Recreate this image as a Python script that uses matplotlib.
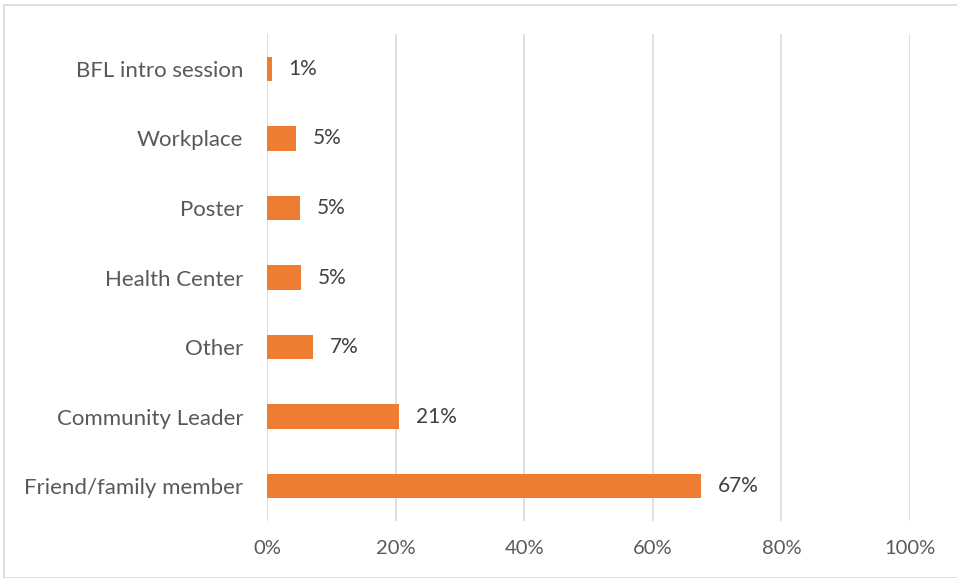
import matplotlib.pyplot as plt
from matplotlib.patches import Rectangle

# Data
sources = ['Friend/family member', 'Community Leader', 'Other', 'Health Center',
           'Poster', 'Workplace', 'BFL intro session']
shares = [67.5, 20.6, 7.2, 5.3, 5.1, 4.5, 0.7]
labels = ['67%', '21%', '7%', '5%', '5%', '5%', '1%']
ticks = [0, 20, 40, 60, 80, 100]

plt.rcParams['font.family'] = ['Lato', 'DejaVu Sans']

fig = plt.figure(figsize=(9.57, 5.78), dpi=100)
ax = fig.add_axes([267/957, 1 - 521/578, (910 - 267)/957, (521 - 34)/578])

# light border around the chart
fig.patches.append(Rectangle((4/957, 0.0), 1.2, 1 - 5/578, transform=fig.transFigure,
                             fill=False, edgecolor='#d9d9d9', linewidth=1.2))

bars = ax.barh(range(len(sources)), shares, height=0.35, color='#ed7d31', zorder=3)
for bar, lab in zip(bars, labels):
    ax.text(bar.get_width() + 2.6, bar.get_y() + bar.get_height()/2, lab,
            va='center', ha='left', fontsize=15, color='#404040')

ax.set_xlim(0, 100)
ax.set_ylim(-0.5, len(sources) - 0.5)
ax.set_xticks(ticks)
ax.set_xticklabels([f'{t}%' for t in ticks])
ax.set_yticks(range(len(sources)))
ax.set_yticklabels(sources, fontsize=16)
ax.tick_params(axis='both', length=0, labelsize=14.5, labelcolor='#595959')
ax.tick_params(axis='y', pad=17, labelsize=16)
ax.tick_params(axis='x', pad=14)
ax.grid(axis='x', color='#d9d9d9', linewidth=1.2, zorder=0)
for s in ax.spines.values():
    s.set_visible(False)

fig.savefig('out.png', dpi=100)
